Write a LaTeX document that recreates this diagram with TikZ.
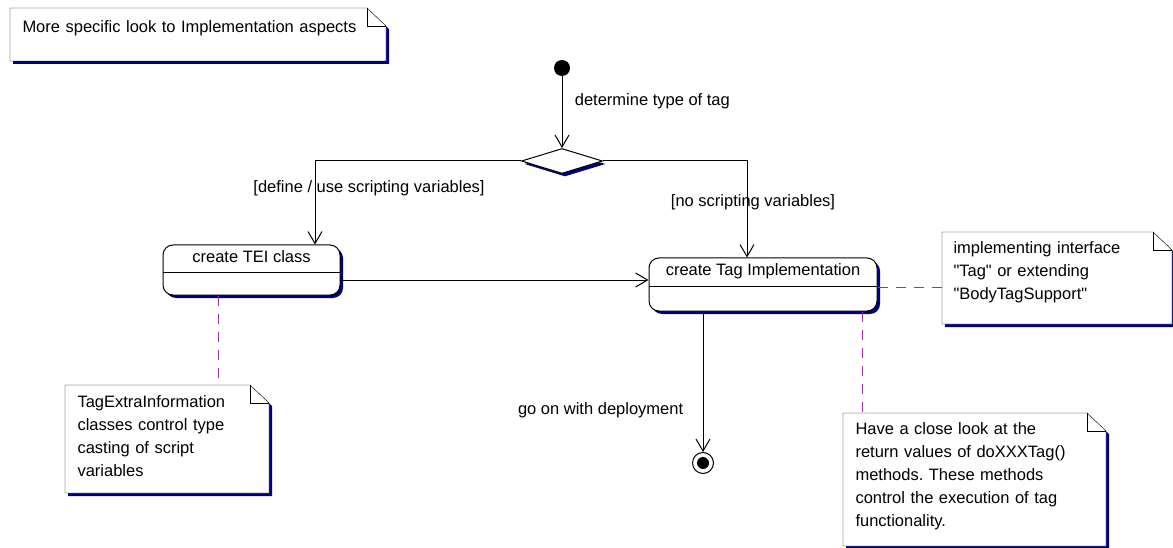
\documentclass[tikz,border=0pt]{standalone}
\usepackage{fontspec}
\setmainfont{Liberation Sans}
\usetikzlibrary{arrows.meta,shapes.geometric,shadows,backgrounds}
\definecolor{shadowblue}{RGB}{0,0,128}
\definecolor{notelink}{RGB}{153,51,153}
\frenchspacing

\begin{document}
\begin{tikzpicture}[x=1pt,y=-1pt,line width=1pt,
        font=\fontsize{16.5}{23}\selectfont,
        flow/.style={-{Straight Barb[length=12pt,width=14pt]}},
        blueshadow/.style={drop shadow={shadow xshift=3pt,shadow yshift=-3pt,fill=shadowblue,opacity=1}},
        activity/.style={draw,fill=white,rounded corners=10pt,inner sep=0pt,blueshadow},
        notetext/.style={inner ysep=0pt,align=left,anchor=north west},
        notebox/.style={draw,fill=white,blueshadow},
        attach/.style={notelink,dash pattern=on 10pt off 8pt}]

        \useasboundingbox (0,0) rectangle (1173,548);

        \node[notetext,inner xsep=12pt,text width=351pt,text height=24pt,text depth=28pt] (aspects) at (10,8) {More specific look to Implementation aspects};
        \node[notetext,inner xsep=12pt,text width=179pt,text height=22pt,text depth=85pt] (scriptnote) at (65,385) {TagExtraInformation\\classes control type\\casting of script\\variables};
        \node[notetext,inner xsep=11pt,text width=207pt,text height=21pt,text depth=70pt] (ifacenote) at (942,232) {implementing interface\\\textquotedbl Tag\textquotedbl{} or extending\\\textquotedbl BodyTagSupport\textquotedbl};
        \node[notetext,inner xsep=12pt,text width=238pt,text height=21pt,text depth=111pt] (returnnote) at (843,413) {Have a close look at the\\return values of doXXXTag()\\methods. These methods\\control the execution of tag\\functionality.};

        \begin{scope}[on background layer]
        \foreach \n in {aspects,scriptnote,ifacenote,returnnote} {
            \filldraw[notebox] (\n.north west) -- ([xshift=-19pt]\n.north east) -- ([yshift=-18pt]\n.north east) -- (\n.south east) -- (\n.south west) -- cycle;
            \draw ([xshift=-19pt]\n.north east) |- ([yshift=-18pt]\n.north east);
        }
        \end{scope}

        \node[circle,fill,inner sep=0pt,minimum size=16pt] (start) at (562,68) {};
        \node[diamond,draw,fill=white,inner sep=0pt,minimum width=81pt,minimum height=25pt,blueshadow] (choice) at (562,161) {};

        \node[activity,minimum width=177pt,text height=17pt,text depth=33pt] (tei) at (251.5,270) {create TEI class};
        \node[activity,minimum width=228pt,text height=18pt,text depth=35pt] (impl) at (763,284.5) {create Tag Implementation};
        \draw ([yshift=-28pt]tei.north west) -- ([yshift=-28pt]tei.north east);
        \draw ([yshift=-29pt]impl.north west) -- ([yshift=-29pt]impl.north east);

        \node[circle,draw,fill=white,inner sep=0pt,minimum size=21pt] (end) at (703,463) {};
        \node[circle,fill,inner sep=0pt,minimum size=12pt] (endcore) at (end) {};

        \node[anchor=west] (typelabel) at (571,101) {determine type of tag};
        \node (definelabel) at (369,188) {[define / use scripting variables]};
        \node (nolabel) at (753,202) {[no scripting variables]};
        \node[anchor=east] (golabel) at (687,410) {go on with deployment};

        \draw[flow] (start) -- (choice);
        \draw[flow] (choice.west) -| ([xshift=63.5pt]tei.north);
        \draw[flow] (choice.east) -| ([xshift=-16pt]impl.north);
        \draw[flow] ([yshift=-10pt]tei.east) -- ([yshift=-10pt]tei.east -| impl.west);
        \draw[flow] ([xshift=-60pt]impl.south) -- (end);

        \draw[attach] ([xshift=-33.5pt]tei.south) -- ([xshift=-33.5pt]tei.south |- scriptnote.north);
        \draw[attach] ([yshift=-2.5pt]impl.east) -- ([yshift=-2.5pt]impl.east -| ifacenote.west);
        \draw[attach] ([xshift=99pt]impl.south) -- ([xshift=99pt]impl.south |- returnnote.north);

        \end{tikzpicture}
\end{document}
